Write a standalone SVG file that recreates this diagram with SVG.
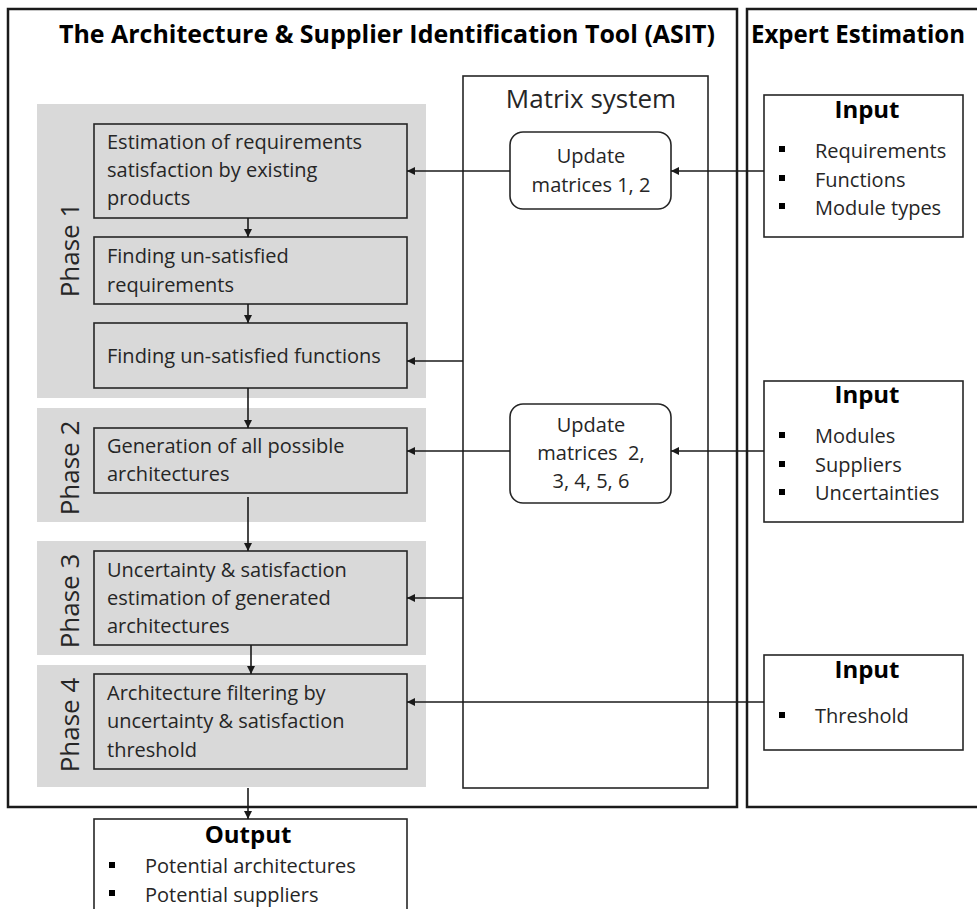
<svg xmlns="http://www.w3.org/2000/svg" width="977" height="909" viewBox="0 0 977 909">
<style>
.frame{fill:none;stroke:#1a1a1a;stroke-width:2.5}
.bg{fill:#d9d9d9}
.box{fill:#d9d9d9;stroke:#262626;stroke-width:1.6}
.wbox{fill:#fff;stroke:#262626;stroke-width:1.6}
.t{font-family:"Open Sans","Noto Sans",sans-serif;font-size:20px;fill:#262626}
.big{font-size:26px}
.b{font-family:"Open Sans","Noto Sans",sans-serif;font-weight:bold;fill:#000}
.ph{font-family:"Open Sans","Noto Sans",sans-serif;font-size:26px;fill:#262626;text-anchor:middle}
.c{fill:none;stroke:#1a1a1a;stroke-width:1.6}
.bul{fill:#000}
</style>
<defs>
<marker id="ah" markerUnits="userSpaceOnUse" markerWidth="9" markerHeight="8" refX="8" refY="4" orient="auto">
<path d="M0,0 L8,4 L0,8 z" fill="#1a1a1a"/>
</marker>
</defs>

<g id="asit">
<rect class="frame" x="8" y="9" width="729" height="798"/>
<text class="b" x="59" y="43" font-size="25" textLength="656" lengthAdjust="spacingAndGlyphs">The Architecture &amp; Supplier Identification Tool (ASIT)</text>
</g>

<g id="expert">
<rect class="frame" x="747" y="9" width="260" height="798"/>
<text class="b" x="751" y="43" font-size="25" textLength="214" lengthAdjust="spacingAndGlyphs">Expert Estimation</text>
</g>

<g id="matrix-system">
<rect class="wbox" x="463" y="76" width="245" height="712"/>
<text class="t big" x="591" y="108" text-anchor="middle">Matrix system</text>
</g>

<g id="phase1">
<rect class="bg" x="37" y="104" width="389" height="294"/>
<text class="ph" transform="translate(79,250) rotate(-90)">Phase 1</text>
</g>
<g id="phase2">
<rect class="bg" x="37" y="408" width="389" height="114"/>
<text class="ph" transform="translate(79,468) rotate(-90)">Phase 2</text>
</g>
<g id="phase3">
<rect class="bg" x="37" y="541" width="389" height="114"/>
<text class="ph" transform="translate(79,601) rotate(-90)">Phase 3</text>
</g>
<g id="phase4">
<rect class="bg" x="37" y="665" width="389" height="122"/>
<text class="ph" transform="translate(79,725) rotate(-90)">Phase 4</text>
</g>

<g id="estimation">
<rect class="box" x="94" y="124" width="313" height="94"/>
<text class="t" x="107" y="149">Estimation of requirements</text>
<text class="t" x="107" y="177">satisfaction by existing</text>
<text class="t" x="107" y="205">products</text>
</g>
<g id="unsat-req">
<rect class="box" x="94" y="237" width="313" height="67"/>
<text class="t" x="107" y="263">Finding un-satisfied</text>
<text class="t" x="107" y="292">requirements</text>
</g>
<g id="unsat-func">
<rect class="box" x="94" y="323" width="313" height="65"/>
<text class="t" x="107" y="363">Finding un-satisfied functions</text>
</g>
<g id="generation">
<rect class="box" x="94" y="428" width="313" height="65"/>
<text class="t" x="107" y="453">Generation of all possible</text>
<text class="t" x="107" y="481">architectures</text>
</g>
<g id="uncertainty">
<rect class="box" x="94" y="551" width="313" height="94"/>
<text class="t" x="107" y="577">Uncertainty &amp; satisfaction</text>
<text class="t" x="107" y="605">estimation of generated</text>
<text class="t" x="107" y="633">architectures</text>
</g>
<g id="filtering">
<rect class="box" x="94" y="674" width="313" height="95"/>
<text class="t" x="107" y="700">Architecture filtering by</text>
<text class="t" x="107" y="728">uncertainty &amp; satisfaction</text>
<text class="t" x="107" y="757">threshold</text>
</g>

<g id="update12">
<rect class="wbox" x="510" y="132" width="161" height="77" rx="13"/>
<text class="t" x="591" y="163" text-anchor="middle">Update</text>
<text class="t" x="591" y="192" text-anchor="middle">matrices 1, 2</text>
</g>
<g id="update23456">
<rect class="wbox" x="510" y="404" width="161" height="99" rx="13"/>
<text class="t" x="591" y="432" text-anchor="middle">Update</text>
<text class="t" x="591" y="460" text-anchor="middle" xml:space="preserve">matrices  2,</text>
<text class="t" x="591" y="488" text-anchor="middle">3, 4, 5, 6</text>
</g>

<g id="input1">
<rect class="wbox" x="764" y="95" width="199" height="142"/>
<text class="b" x="867" y="118" font-size="24" text-anchor="middle">Input</text>
<rect class="bul" x="779" y="146" width="6" height="6"/>
<text class="t" x="815" y="158">Requirements</text>
<rect class="bul" x="779" y="175" width="6" height="6"/>
<text class="t" x="815" y="187">Functions</text>
<rect class="bul" x="779" y="203" width="6" height="6"/>
<text class="t" x="815" y="215">Module types</text>
</g>
<g id="input2">
<rect class="wbox" x="764" y="381" width="199" height="141"/>
<text class="b" x="867" y="403" font-size="24" text-anchor="middle">Input</text>
<rect class="bul" x="779" y="432" width="6" height="6"/>
<text class="t" x="815" y="443">Modules</text>
<rect class="bul" x="779" y="461" width="6" height="6"/>
<text class="t" x="815" y="472">Suppliers</text>
<rect class="bul" x="779" y="489" width="6" height="6"/>
<text class="t" x="815" y="500">Uncertainties</text>
</g>
<g id="input3">
<rect class="wbox" x="764" y="655" width="199" height="95"/>
<text class="b" x="867" y="678" font-size="24" text-anchor="middle">Input</text>
<rect class="bul" x="779" y="712" width="6" height="6"/>
<text class="t" x="815" y="723">Threshold</text>
</g>

<g id="output">
<rect class="wbox" x="94" y="819" width="313" height="110"/>
<text class="b" x="248" y="843" font-size="24" text-anchor="middle">Output</text>
<rect class="bul" x="109" y="862" width="6" height="6"/>
<text class="t" x="145" y="873">Potential architectures</text>
<rect class="bul" x="109" y="890" width="6" height="6"/>
<text class="t" x="145" y="902">Potential suppliers</text>
</g>

<g id="connectors">
<line class="c" x1="248" y1="218" x2="248" y2="237" marker-end="url(#ah)"/>
<line class="c" x1="248" y1="304" x2="248" y2="323" marker-end="url(#ah)"/>
<line class="c" x1="248" y1="388" x2="248" y2="428" marker-end="url(#ah)"/>
<line class="c" x1="248" y1="497" x2="248" y2="551" marker-end="url(#ah)"/>
<line class="c" x1="251" y1="645" x2="251" y2="674" marker-end="url(#ah)"/>
<line class="c" x1="248" y1="788" x2="248" y2="819" marker-end="url(#ah)"/>
<line class="c" x1="510" y1="171" x2="407" y2="171" marker-end="url(#ah)"/>
<line class="c" x1="764" y1="171" x2="671" y2="171" marker-end="url(#ah)"/>
<line class="c" x1="463" y1="361" x2="407" y2="361" marker-end="url(#ah)"/>
<line class="c" x1="510" y1="451" x2="407" y2="451" marker-end="url(#ah)"/>
<line class="c" x1="764" y1="451" x2="671" y2="451" marker-end="url(#ah)"/>
<line class="c" x1="463" y1="598" x2="407" y2="598" marker-end="url(#ah)"/>
<line class="c" x1="764" y1="702" x2="407" y2="702" marker-end="url(#ah)"/>
</g>
</svg>
